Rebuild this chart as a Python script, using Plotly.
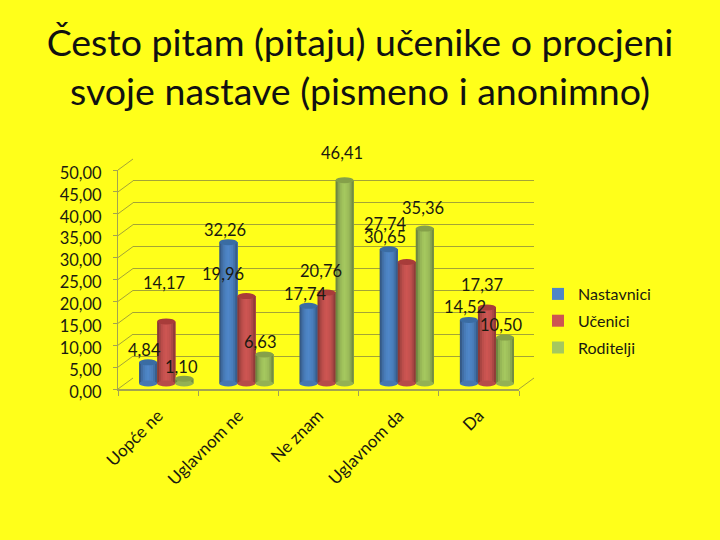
import plotly.graph_objects as go

categories = ["Uopće ne", "Uglavnom ne", "Ne znam", "Uglavnom da", "Da"]
nastavnici = [4.84, 32.26, 17.74, 30.65, 14.52]
ucenici = [14.17, 19.96, 20.76, 27.74, 17.37]
roditelji = [1.10, 6.63, 46.41, 35.36, 10.50]
series_names = ["Nastavnici", "Učenici", "Roditelji"]
y_ticks = [0, 5, 10, 15, 20, 25, 30, 35, 40, 45, 50]
title_text = "Često pitam (pitaju) učenike o procjeni<br>svoje nastave (pismeno i anonimno)"

series_values = [nastavnici, ucenici, roditelji]
base_colors = [(74, 126, 187), (192, 80, 77), (155, 187, 89)]
top_colors = ["#3A6CA3", "#A83C3A", "#85A04A"]
shade_profile = [0.72, 0.88, 0.98, 1.04, 1.07, 1.04, 1.0, 0.9, 0.75]
label_px = [
    [(144, 350), (225, 230), (305, 294), (385, 237), (465, 307)],
    [(164, 283), (223, 274), (321, 271), (385, 224), (482, 285)],
    [(181, 367), (260, 342), (342, 153), (423, 208), (501, 325)],
]

W, H = 720, 540
FONT = "Lato"
TEXT = "#1a1a10"
GRID = "#A4A436"
AXIS = "#A3A350"


def px(x):
    return x / W


def py(y):
    return 1 - y / H


def shade(rgb, f):
    return "rgb(%d,%d,%d)" % tuple(min(255, int(c * f)) for c in rgb)


# Pixel geometry of the pseudo-3D frame
FRONT_L, FRONT_R, FRONT_TOP, FRONT_BOT = 118, 519, 170, 389
DX, DY = 15, 11
BAR_ZERO, BAR_SCALE = 383.5, 4.38
BAR_LO, BAR_HI = -3, 52
GROUP_SHIFT = 0.1
BAR_W = 0.225
N = len(shade_profile)

fig = go.Figure()

# Dummy traces so each axis pair exists
fig.add_trace(go.Scatter(x=[0], y=[0], xaxis="x", yaxis="y", mode="markers",
                         marker_opacity=0, showlegend=False, hoverinfo="skip"))

strip = BAR_W / N
x_pos = list(range(len(categories)))
for j, (name, vals, rgb) in enumerate(zip(series_names, series_values, base_colors)):
    start = GROUP_SHIFT + (j - 1.5) * BAR_W
    for k, f in enumerate(shade_profile):
        fig.add_trace(go.Bar(
            x=x_pos, y=vals, xaxis="x2", yaxis="y2",
            width=BAR_W - k * strip, offset=start + k * strip,
            marker=dict(color=shade(rgb, f), line_width=0),
            name=name, legendgroup=name,
            showlegend=(k == N // 2), hoverinfo="skip",
        ))

fig.add_trace(go.Scatter(x=[0], y=[0], xaxis="x2", yaxis="y3", mode="markers",
                         marker_opacity=0, showlegend=False, hoverinfo="skip"))

shapes = []
# Depth lines linking the front axis to the back wall
for v in y_ticks:
    yf = FRONT_BOT - v * (FRONT_BOT - FRONT_TOP) / 50
    shapes.append(dict(type="line", xref="paper", yref="paper", layer="below",
                       x0=px(FRONT_L), y0=py(yf), x1=px(FRONT_L + DX), y1=py(yf - DY),
                       line=dict(color=GRID, width=1)))
shapes.append(dict(type="line", xref="paper", yref="paper", layer="below",
                   x0=px(FRONT_R), y0=py(FRONT_BOT), x1=px(FRONT_R + DX), y1=py(FRONT_BOT - DY),
                   line=dict(color=GRID, width=1)))

# Cylinder caps, placed in data coordinates
RY = 3.0 / BAR_SCALE
for j, (vals, rgb, top) in enumerate(zip(series_values, base_colors, top_colors)):
    start = GROUP_SHIFT + (j - 1.5) * BAR_W
    for i, v in zip(x_pos, vals):
        shapes.append(dict(type="circle", xref="x2", yref="y2", layer="above",
                           x0=i + start, x1=i + start + BAR_W, y0=-RY, y1=RY,
                           fillcolor=shade(rgb, 0.95), line_width=0))
        shapes.append(dict(type="circle", xref="x2", yref="y2", layer="above",
                           x0=i + start, x1=i + start + BAR_W, y0=v - RY, y1=v + RY,
                           fillcolor=top, line_width=0))

annotations = []
for vals, positions in zip(series_values, label_px):
    for v, (lx, ly) in zip(vals, positions):
        annotations.append(dict(
            xref="paper", yref="paper", x=px(lx), y=py(ly), showarrow=False,
            xanchor="center", yanchor="middle",
            text=f"{v:.2f}".replace(".", ","),
            font=dict(family=FONT, size=16.5, color=TEXT),
        ))

xr = [-0.5, len(categories) - 0.5]
boundaries = [i - 0.5 for i in range(len(categories) + 1)]
fig.update_layout(
    width=W, height=H,
    margin=dict(l=0, r=0, t=0, b=0, autoexpand=False),
    paper_bgcolor="#FFFF1A",
    plot_bgcolor="rgba(0,0,0,0)",
    separators=",.",
    barmode="overlay",
    font=dict(family=FONT, color=TEXT),
    title=dict(text=title_text, x=0.5, xanchor="center", y=py(56), yanchor="top",
               font=dict(family=FONT, size=37.5, color="#111111")),
    # back wall
    xaxis=dict(domain=[px(FRONT_L + DX), px(FRONT_R + DX)], range=xr, visible=False,
               fixedrange=True),
    yaxis=dict(domain=[py(FRONT_BOT - DY), py(FRONT_TOP - DY)], range=[0, 50], anchor="x",
               tickvals=y_ticks, showgrid=True, gridcolor=GRID, gridwidth=1,
               showticklabels=False, ticks="", zeroline=False, showline=False),
    # bars and category labels
    xaxis2=dict(domain=[px(FRONT_L), px(FRONT_R)], range=xr, anchor="y3",
                tickmode="array", tickvals=x_pos, ticktext=categories, tickangle=-45,
                ticks="outside", ticklen=8, tickcolor="rgba(0,0,0,0)",
                tickfont=dict(family=FONT, size=17, color=TEXT),
                showgrid=False, zeroline=False, showline=True, linecolor=AXIS, linewidth=2,
                minor=dict(tickmode="array", tickvals=boundaries, ticks="outside",
                           ticklen=5, tickcolor=AXIS, tickwidth=1, showgrid=False)),
    yaxis2=dict(domain=[py(BAR_ZERO - BAR_LO * BAR_SCALE), py(BAR_ZERO - BAR_HI * BAR_SCALE)],
                range=[BAR_LO, BAR_HI], anchor="x2", visible=False, showgrid=False),
    # front value axis
    yaxis3=dict(domain=[py(FRONT_BOT), py(FRONT_TOP)], range=[0, 50], anchor="x2",
                tickmode="array", tickvals=y_ticks, tickformat=".2f",
                ticks="outside", ticklen=12, tickcolor="rgba(0,0,0,0)",
                ticklabelshift=3,
                tickfont=dict(family=FONT, size=16.5, color=TEXT),
                showgrid=False, zeroline=False, showline=True, linecolor=AXIS, linewidth=1,
                minor=dict(tickmode="array", tickvals=y_ticks, ticks="outside",
                           ticklen=4, tickcolor=AXIS, tickwidth=1, showgrid=False)),
    legend=dict(x=px(538), y=py(277), xanchor="left", yanchor="top",
                bgcolor="rgba(0,0,0,0)", tracegroupgap=3,
                font=dict(family=FONT, size=16, color=TEXT), itemclick=False,
                itemdoubleclick=False),
    shapes=shapes,
    annotations=annotations,
)

fig.write_html("out.html", config={"displayModeBar": False},
               post_script="document.body.style.margin='0';")
